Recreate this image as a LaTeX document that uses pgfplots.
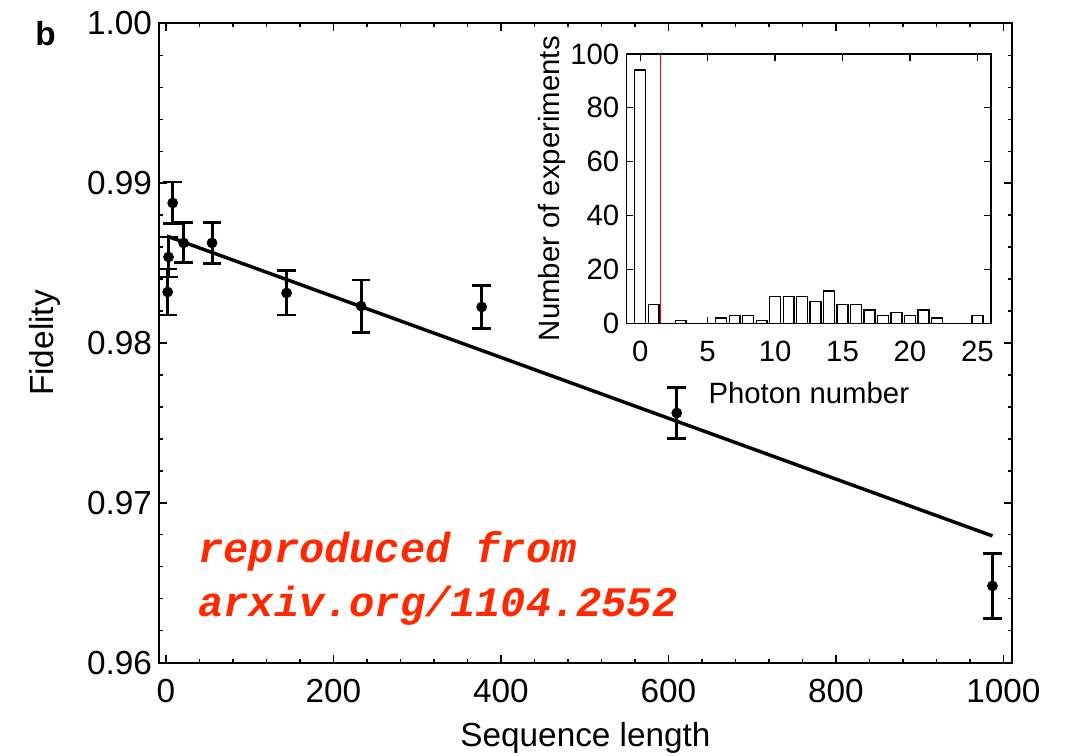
\documentclass[border=0pt]{standalone}
\usepackage{pgfplots}
\pgfplotsset{compat=1.18}
\usepackage{pgfplotstable}
\usepackage{fontspec}
\setmainfont{Liberation Sans}
\newfontfamily\redmono{Liberation Mono}
\definecolor{redtxt}{RGB}{255,40,0}
\pgfplotstableread{
x y e
2 0.98319 0.00144
3 0.98538 0.00125
8 0.98876 0.00131
21 0.98626 0.00125
55 0.98626 0.00128
144 0.98313 0.00138
233 0.98231 0.00163
377 0.98225 0.00135
610 0.97562 0.00160
987 0.96480 0.00203
}\fidelity
\pgfplotstableread{
x n
0 94
1 7
3 1
6 2
7 3
8 3
9 1
10 10
11 10
12 10
13 8
14 12
15 7
16 7
17 5
18 3
19 4
20 3
21 5
22 2
25 3
}\hist
\begin{document}
\begin{tikzpicture}
\useasboundingbox (0,0) rectangle (800.25pt,567pt);
\begin{axis}[
  at={(119.475pt,69.975pt)}, anchor=south west,
  scale only axis, width=639.3pt, height=479.55pt,
  xmin=-8, xmax=1010, ymin=0.96, ymax=1.00,
  xtick={0,200,400,600,800,1000},
  ytick={0.96,0.97,0.98,0.99,1.00},
  yticklabels={0.96,0.97,0.98,0.99,1.00},
  /pgf/number format/1000 sep={},
  minor x tick num=4, minor y tick num=4,
  tick align=inside,
  major tick length=6pt, minor tick length=3pt,
  every tick/.style={black, line width=1pt},
  axis line style={line width=1.3pt},
  tick label style={font=\fontsize{25}{28}\selectfont},
  /pgf/number format/assume math mode=true,
  xticklabel style={yshift=-9pt},
  yticklabel style={xshift=-2pt},
  xlabel={Sequence length},
  ylabel={Fidelity},
  label style={font=\fontsize{25}{28}\selectfont},
  xlabel style={yshift=-8pt},
  ylabel style={yshift=13pt},
  clip=false,
]
\addplot[black, line width=2.6pt, no marks] coordinates {(1,0.98669) (987,0.96793)};
\addplot[black, only marks, mark=*, mark size=3.8pt,
  error bars/.cd, y dir=both, y explicit,
  error bar style={line width=2.2pt, black},
  error mark options={rotate=90, mark size=7pt, line width=2.2pt, black}]
  table[x=x, y=y, y error=e] {\fidelity};
\end{axis}
\node[anchor=base west, text=redtxt, font=\redmono\bfseries\itshape\fontsize{31.5}{36}\selectfont, inner sep=0pt] at (148.7pt,144.75pt) {reproduced from};
\node[anchor=base west, text=redtxt, font=\redmono\bfseries\itshape\fontsize{31.5}{36}\selectfont, inner sep=0pt] at (148.7pt,104.25pt) {arxiv.org/1104.2552};
\node[anchor=base west, font=\bfseries\fontsize{25}{28}\selectfont, inner sep=0pt] at (26.25pt,532.5pt) {b};
\begin{axis}[
  at={(470.0pt,324.5pt)}, anchor=south west,
  scale only axis, width=273.2pt, height=202pt,
  xmin=-1, xmax=26, ymin=0, ymax=100,
  xtick={0,5,10,15,20,25},
  ytick={0,20,40,60,80,100},
  tick align=inside,
  major tick length=5pt,
  every tick/.style={black, line width=0.9pt},
  axis line style={line width=1.2pt},
  axis background/.style={fill=white},
  tick label style={font=\fontsize{22}{25}\selectfont},
  /pgf/number format/assume math mode=true,
  xticklabel style={yshift=-10pt},
  yticklabel style={xshift=-2pt},
  xlabel={Photon number},
  ylabel={Number of experiments},
  label style={font=\fontsize{22}{25}\selectfont},
  xlabel style={yshift=-8pt},
  ylabel style={yshift=-3pt},
]
\addplot[ybar, bar width=0.8, fill=white, draw=black, line width=1pt] table[x=x, y=n] {\hist};
\addplot[red, line width=1.2pt, no marks] coordinates {(1.5,0) (1.5,100)};
\end{axis}
\end{tikzpicture}
\end{document}
